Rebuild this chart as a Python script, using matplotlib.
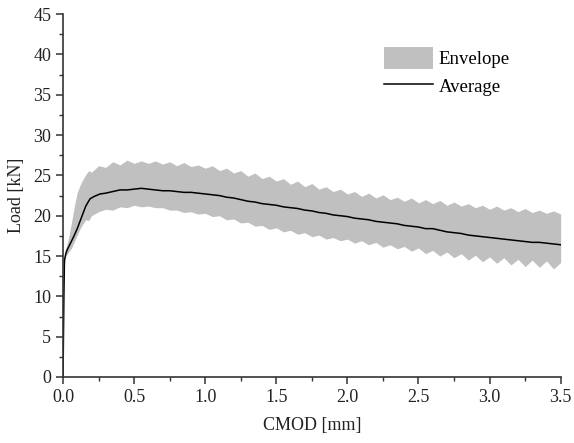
import numpy as np
import matplotlib
matplotlib.use("Agg")
import matplotlib.pyplot as plt
from matplotlib.ticker import MultipleLocator

# envelope (min/max of the tests)
env_cmod = [0.0, 0.005, 0.01, 0.02, 0.04, 0.06, 0.08, 0.10, 0.12, 0.14, 0.16, 0.18, 0.20,
            0.25, 0.30, 0.35, 0.40, 0.45, 0.50, 0.55, 0.60, 0.65, 0.70, 0.75, 0.80, 0.85,
            0.90, 0.95, 1.00, 1.05, 1.10, 1.15, 1.20, 1.25, 1.30, 1.35, 1.40, 1.45, 1.50,
            1.55, 1.60, 1.65, 1.70, 1.75, 1.80, 1.85, 1.90, 1.95, 2.00, 2.05, 2.10, 2.15,
            2.20, 2.25, 2.30, 2.35, 2.40, 2.45, 2.50, 2.55, 2.60, 2.65, 2.70, 2.75, 2.80,
            2.85, 2.90, 2.95, 3.00, 3.05, 3.10, 3.15, 3.20, 3.25, 3.30, 3.35, 3.40, 3.45, 3.50]
env_upper = [0.0, 10.0, 15.5, 16.0, 17.3, 19.2, 21.2, 22.9, 23.8, 24.5, 25.1, 25.6, 25.4,
             26.2, 26.0, 26.7, 26.3, 26.9, 26.5, 26.8, 26.5, 26.8, 26.4, 26.7, 26.2, 26.6,
             26.1, 26.3, 25.9, 26.2, 25.6, 25.9, 25.3, 25.6, 24.9, 25.3, 24.6, 24.9, 24.3,
             24.6, 23.9, 24.3, 23.6, 24.0, 23.3, 23.6, 23.0, 23.3, 22.7, 23.0, 22.4, 22.8,
             22.2, 22.6, 22.0, 22.3, 21.8, 22.2, 21.6, 22.0, 21.5, 21.9, 21.3, 21.7, 21.2,
             21.5, 21.0, 21.3, 20.8, 21.2, 20.7, 21.0, 20.5, 20.9, 20.4, 20.7, 20.3, 20.6, 20.2]
env_lower = [0.0, 8.0, 14.0, 15.0, 15.5, 16.0, 16.8, 17.6, 18.4, 19.0, 19.5, 19.4, 20.0,
             20.5, 20.8, 20.7, 21.1, 21.0, 21.3, 21.1, 21.2, 21.0, 21.0, 20.7, 20.7, 20.4,
             20.5, 20.2, 20.3, 19.9, 20.0, 19.5, 19.6, 19.1, 19.2, 18.7, 18.8, 18.3, 18.5,
             18.0, 18.2, 17.7, 17.9, 17.4, 17.6, 17.1, 17.3, 16.9, 17.1, 16.6, 16.9, 16.4,
             16.7, 16.1, 16.4, 15.9, 16.2, 15.6, 16.0, 15.3, 15.7, 15.0, 15.5, 14.8, 15.3,
             14.5, 15.1, 14.3, 14.9, 14.1, 14.8, 13.9, 14.6, 13.7, 14.5, 13.6, 14.4, 13.4, 14.2]

# average curve
avg_cmod = [0.0, 0.003, 0.006, 0.01, 0.02, 0.03, 0.05, 0.08, 0.10, 0.13, 0.16, 0.19, 0.22,
            0.26, 0.30, 0.35, 0.40, 0.45, 0.50, 0.55, 0.60, 0.65, 0.70, 0.75, 0.80, 0.85,
            0.90, 0.95, 1.00, 1.05, 1.10, 1.15, 1.20, 1.25, 1.30, 1.35, 1.40, 1.45, 1.50,
            1.55, 1.60, 1.65, 1.70, 1.75, 1.80, 1.85, 1.90, 1.95, 2.00, 2.05, 2.10, 2.15,
            2.20, 2.25, 2.30, 2.35, 2.40, 2.45, 2.50, 2.55, 2.60, 2.65, 2.70, 2.75, 2.80,
            2.85, 2.90, 2.95, 3.00, 3.05, 3.10, 3.15, 3.20, 3.25, 3.30, 3.35, 3.40, 3.45, 3.50]
avg_load = [0.0, 5.0, 10.0, 14.5, 15.3, 15.8, 16.5, 17.6, 18.4, 19.8, 21.2, 22.1, 22.4,
            22.7, 22.8, 23.0, 23.2, 23.2, 23.3, 23.4, 23.3, 23.2, 23.1, 23.1, 23.0, 22.9,
            22.9, 22.8, 22.7, 22.6, 22.5, 22.3, 22.2, 22.0, 21.8, 21.7, 21.5, 21.4, 21.3,
            21.1, 21.0, 20.9, 20.7, 20.6, 20.4, 20.3, 20.1, 20.0, 19.9, 19.7, 19.6, 19.5,
            19.3, 19.2, 19.1, 19.0, 18.8, 18.7, 18.6, 18.4, 18.4, 18.2, 18.0, 17.9, 17.8,
            17.6, 17.5, 17.4, 17.3, 17.2, 17.1, 17.0, 16.9, 16.8, 16.7, 16.7, 16.6, 16.5, 16.4]

plt.rcParams['font.family'] = ['Liberation Serif', 'DejaVu Serif']
plt.rcParams['font.size'] = 13

fig = plt.figure(figsize=(5.74, 4.43), dpi=100)
ax = fig.add_axes([0.1098, 0.149, 0.867, 0.819])

ax.fill_between(env_cmod, env_lower, env_upper, color="#c0c0c0", linewidth=0, label="Envelope")
ax.plot(avg_cmod, avg_load, color="black", linewidth=1.1, label="Average")

ax.set_xlim(0, 3.5)
ax.set_ylim(0, 45)
ax.xaxis.set_major_locator(MultipleLocator(0.5))
ax.xaxis.set_minor_locator(MultipleLocator(0.25))
ax.yaxis.set_major_locator(MultipleLocator(5))
ax.yaxis.set_minor_locator(MultipleLocator(2.5))
ax.xaxis.set_major_formatter(plt.FormatStrFormatter('%.1f'))

for s in ["top", "right"]:
    ax.spines[s].set_visible(False)
for s in ["left", "bottom"]:
    ax.spines[s].set_color("#333333")
    ax.spines[s].set_linewidth(1.2)
ax.tick_params(which="major", direction="out", length=5, width=1.1, color="#333333",
               labelsize=13, labelcolor="#222222")
ax.tick_params(which="minor", direction="out", length=3, width=1.0, color="#333333")

ax.set_xlabel("CMOD [mm]", fontsize=13, color="#222222", labelpad=8)
ax.set_ylabel("Load [kN]", fontsize=13, color="#222222", labelpad=6)

ax.legend(loc="upper left", bbox_to_anchor=(0.63, 0.93), frameon=False, fontsize=13.5,
          handlelength=2.6, handleheight=1.4, handletextpad=0.3, labelspacing=0.35,
          borderaxespad=0)

fig.savefig("out.png", dpi=100)
